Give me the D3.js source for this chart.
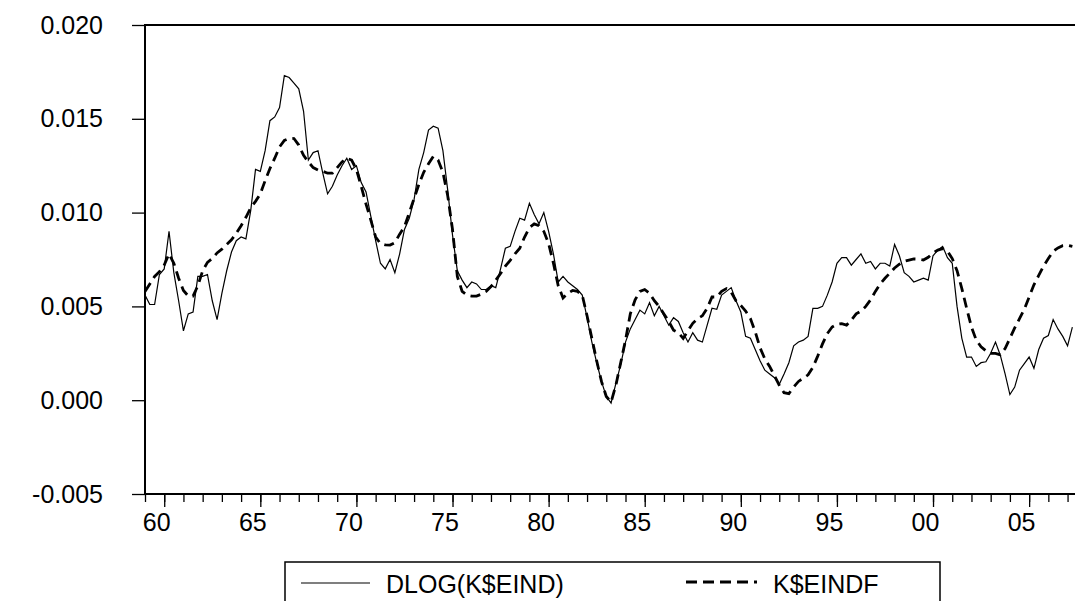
<!DOCTYPE html>
<html>
<head>
<meta charset="utf-8">
<script src="https://cdn.jsdelivr.net/npm/d3@7"></script>
<style>
  body { margin: 0; background: #fff; }
  svg { display: block; font-family: "Liberation Sans", Arial, sans-serif; }
</style>
</head>
<body>
<svg id="svg1" width="1075" height="601"></svg>
<script>
// quarterly data, 1959Q1 onwards
var startYear = 1959;

var eind = [
  0.0056,0.0051,0.0051,0.0067,0.0070,0.0090,0.0068,0.0053,0.0037,0.0046,
  0.0047,0.0066,0.0066,0.0067,0.0053,0.0043,0.0057,0.0069,0.0079,0.0085,
  0.0087,0.0086,0.0101,0.0123,0.0122,0.0133,0.0149,0.0151,0.0156,0.0173,
  0.0172,0.0169,0.0166,0.0154,0.0128,0.0132,0.0133,0.0121,0.0110,0.0114,
  0.0120,0.0125,0.0129,0.0123,0.0125,0.0116,0.0111,0.0098,0.0085,0.0073,
  0.0070,0.0075,0.0068,0.0078,0.0091,0.0097,0.0107,0.0123,0.0132,0.0144,
  0.0146,0.0145,0.0133,0.0112,0.0088,0.0069,0.0064,0.0060,0.0063,0.0062,
  0.0059,0.0059,0.0061,0.0060,0.0070,0.0081,0.0082,0.0090,0.0097,0.0096,
  0.0105,0.0099,0.0094,0.0100,0.0090,0.0078,0.0063,0.0066,0.0063,0.0061,
  0.0059,0.0056,0.0044,0.0031,0.0020,0.0010,0.0002,-0.00015,0.0009,0.0019,
  0.0031,0.0038,0.0043,0.0048,0.0046,0.0052,0.0045,0.0050,0.0045,0.0040,
  0.0044,0.0042,0.0036,0.0031,0.0036,0.0032,0.0031,0.0040,0.0049,0.00485,
  0.0056,0.0058,0.0060,0.0053,0.0047,0.0034,0.0033,0.0027,0.0021,0.0016,
  0.0014,0.0012,0.00085,0.0014,0.0020,0.0029,0.0031,0.0032,0.0034,0.0049,
  0.0049,0.0050,0.0056,0.0063,0.0073,0.0076,0.0076,0.0072,0.0075,0.0078,
  0.0073,0.0074,0.0070,0.0073,0.0073,0.00715,0.0083,0.0077,0.0068,0.0066,
  0.0063,0.0064,0.0065,0.0064,0.0077,0.0080,0.0082,0.0076,0.0073,0.0050,
  0.0033,0.0023,0.0023,0.0018,0.0020,0.00205,0.0025,0.0031,0.0024,0.0014,
  0.0003,0.0007,0.0016,0.00195,0.0023,0.0017,0.0027,0.0033,0.00345,0.0043,
  0.0038,0.0034,0.0029,0.0039
];

var eindf = [
  0.0058,0.0062,0.0066,0.00685,0.0072,0.0078,0.0073,0.0065,0.00585,0.00555,
  0.00555,0.0061,0.0069,0.00735,0.00755,0.00785,0.00805,0.0083,0.00855,0.0089,
  0.0093,0.00975,0.01025,0.0106,0.0110,0.0117,0.01235,0.0129,0.0135,0.01385,
  0.01396,0.01395,0.0136,0.01305,0.0127,0.0124,0.01227,0.0122,0.0121,0.0121,
  0.0124,0.0127,0.0129,0.0128,0.0123,0.0114,0.01045,0.0096,0.0087,0.00835,
  0.00828,0.00827,0.0084,0.00885,0.00925,0.0100,0.01075,0.0115,0.01215,0.0126,
  0.0130,0.0128,0.01215,0.0109,0.0091,0.0066,0.0058,0.0056,0.00555,0.00555,
  0.00565,0.0058,0.00605,0.0064,0.00675,0.00715,0.00745,0.0078,0.0081,0.0087,
  0.0092,0.0094,0.0093,0.0090,0.00835,0.0073,0.0061,0.00545,0.0057,0.00585,
  0.0058,0.0056,0.0045,0.0033,0.0021,0.0010,0.0002,-0.0001,0.0008,0.0020,
  0.0032,0.0046,0.00535,0.0058,0.0059,0.0057,0.0053,0.0050,0.0046,0.0042,
  0.00373,0.0036,0.0033,0.0037,0.0041,0.00435,0.0045,0.0049,0.0055,0.0055,
  0.0058,0.00595,0.00575,0.0053,0.00505,0.00475,0.00435,0.00365,0.0028,0.0022,
  0.0018,0.0013,0.0008,0.0004,0.00035,0.0007,0.0010,0.00117,0.00135,0.00175,
  0.00235,0.0030,0.00355,0.0039,0.00405,0.00408,0.0040,0.00427,0.0046,0.00475,
  0.0050,0.00535,0.0058,0.0062,0.0065,0.00677,0.00705,0.00725,0.0074,0.00747,
  0.00753,0.00752,0.00747,0.00762,0.00785,0.0080,0.00808,0.00795,0.00755,0.0069,
  0.00595,0.0049,0.0039,0.0032,0.00285,0.00263,0.0025,0.0025,0.00242,0.00275,
  0.0033,0.00385,0.00435,0.00485,0.0055,0.00615,0.00665,0.00715,0.00755,0.00793,
  0.00812,0.00824,0.00826,0.0082
];

var yTicks = [-0.005, 0.000, 0.005, 0.010, 0.015, 0.020];
var yTickLabels = ['-0.005', '0.000', '0.005', '0.010', '0.015', '0.020'];
var xTicks = [1960, 1965, 1970, 1975, 1980, 1985, 1990, 1995, 2000, 2005];
var xTickLabels = ['60', '65', '70', '75', '80', '85', '90', '95', '00', '05'];
var seriesNames = ['DLOG(K$EIND)', 'K$EINDF'];

var svg = d3.select('svg');

var plotLeft = 145, plotRight = 1082, plotTop = 25, plotBottom = 494;

var x = d3.scaleLinear()
    .domain([startYear, startYear + (plotRight - plotLeft) / 19.22])
    .range([plotLeft, plotRight]);

var y = d3.scaleLinear()
    .domain([-0.005, 0.020])
    .range([plotBottom, plotTop]);

function period(i) { return startYear + i / 4; }

// plot frame
svg.append('rect')
    .attr('x', plotLeft).attr('y', plotTop)
    .attr('width', plotRight - plotLeft).attr('height', plotBottom - plotTop)
    .attr('fill', 'none')
    .attr('stroke', '#000')
    .attr('stroke-width', 2);

// y axis
var yAxis = svg.append('g')
    .attr('transform', 'translate(' + plotLeft + ',0)')
    .call(d3.axisLeft(y)
        .tickValues(yTicks)
        .tickFormat(function(d, i){ return yTickLabels[i]; })
        .tickSize(13)
        .tickPadding(29));
yAxis.select('.domain').remove();
yAxis.selectAll('line').attr('stroke-width', 1.3);
yAxis.selectAll('text')
    .attr('font-size', 25)
    .attr('font-family', '"Liberation Sans", Arial, sans-serif')
    .attr('fill', '#000');

// x axis: yearly minor ticks, then labelled 5-year ticks
var minor = svg.append('g')
    .attr('transform', 'translate(0,' + plotBottom + ')')
    .call(d3.axisBottom(x)
        .tickValues(d3.range(startYear, 2008))
        .tickSize(8)
        .tickFormat(''));
minor.select('.domain').remove();
minor.selectAll('line').attr('stroke-width', 1.3);

var xAxis = svg.append('g')
    .attr('transform', 'translate(0,' + plotBottom + ')')
    .call(d3.axisBottom(x)
        .tickValues(xTicks)
        .tickSize(13)
        .tickPadding(6)
        .tickFormat(function(d, i){ return xTickLabels[i]; }));
xAxis.select('.domain').remove();
xAxis.selectAll('line').attr('stroke-width', 1.3);
xAxis.selectAll('text')
    .attr('font-size', 25)
    .attr('font-family', '"Liberation Sans", Arial, sans-serif')
    .attr('dx', -8)
    .attr('fill', '#000');

// the two lines
var plot = svg.append('g');

var line = d3.line()
    .x(function(d, i){ return x(period(i)); })
    .y(function(d){ return y(d); });

plot.append('path')
    .datum(eindf)
    .attr('d', line)
    .attr('fill', 'none')
    .attr('stroke', '#000')
    .attr('stroke-width', 2.8)
    .attr('stroke-dasharray', '10,6');

plot.append('path')
    .datum(eind)
    .attr('d', line)
    .attr('fill', 'none')
    .attr('stroke', '#000')
    .attr('stroke-width', 1.2);

// legend
var legend = svg.append('g');
legend.append('rect')
    .attr('x', 285).attr('y', 562)
    .attr('width', 655).attr('height', 60)
    .attr('fill', 'none')
    .attr('stroke', '#000')
    .attr('stroke-width', 1.5);

legend.append('line')
    .attr('x1', 301).attr('x2', 370)
    .attr('y1', 583).attr('y2', 583)
    .attr('stroke', '#000').attr('stroke-width', 1.2);
legend.append('text')
    .attr('x', 386).attr('y', 593)
    .attr('font-size', 25)
    .text(seriesNames[0]);

legend.append('line')
    .attr('x1', 686).attr('x2', 757)
    .attr('y1', 582).attr('y2', 582)
    .attr('stroke', '#000').attr('stroke-width', 2.8)
    .attr('stroke-dasharray', '11,6');
legend.append('text')
    .attr('x', 773).attr('y', 593)
    .attr('font-size', 25)
    .text(seriesNames[1]);
</script>
</body>
</html>
